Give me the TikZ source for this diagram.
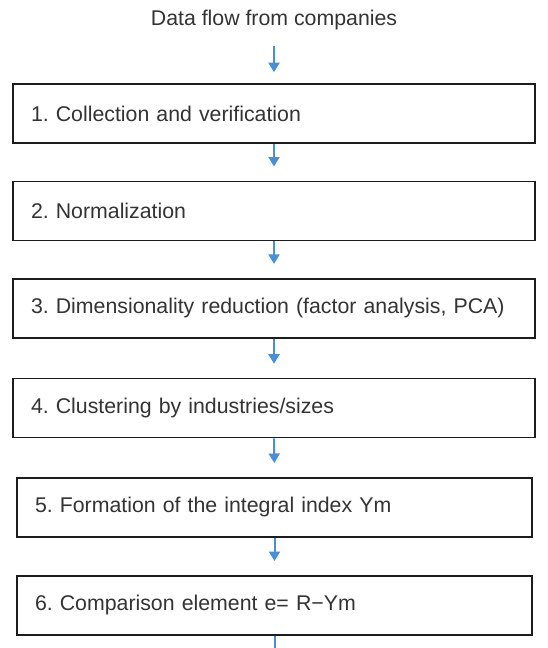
\documentclass[tikz,border=0pt]{standalone}
\usepackage{fontspec}
\setmainfont{Liberation Sans}
\usepackage{tikz}
\usetikzlibrary{arrows.meta}
\definecolor{flowblue}{HTML}{4A8FD6}
\definecolor{boxline}{HTML}{1C1C1C}
\definecolor{textgray}{HTML}{333333}
\tikzset{
  >={Triangle[length=9.5pt, width=11pt]},
  every node/.style={font=\fontsize{21.3}{25}\selectfont\frenchspacing, text=textgray},
  stagebox/.style={
    rectangle, draw=boxline, line width=1.6pt, fill=white,
    minimum height=59pt, inner xsep=18pt, inner ysep=0pt,
    text width=486pt, align=left
  },
  flowarrow/.style={->, flowblue, line width=2pt, shorten >=14pt}
}

\begin{document}
\begin{tikzpicture}[x=1pt, y=-1pt]
\useasboundingbox (0,0) rectangle (548,648);

% ── Heading ──────────────────────────────────────────────────────────────────
\node[inner sep=0pt] (head) at (274, 20) {Data flow from companies};

% ── Stages (one box per processing step) ─────────────────────────────────────
\node[stagebox] (b1) at (274, 113.5) {1. Collection and verification};
\node[stagebox] (b2) at (274, 210.8) {2. Normalization};
\node[stagebox] (b3) at (274, 308.2) {3. Dimensionality reduction (factor analysis, PCA)};
\node[stagebox] (b4) at (274, 408.0) {4. Clustering by industries/sizes};
\node[stagebox, text width=479pt] (b5) at (274.5, 507.3) {5. Formation of the integral index Ym};
\node[stagebox, text width=479pt] (b6) at (274.5, 605.3) {6. Comparison element e= R\textminus Ym};
\coordinate (tail) at (b6.south |- 0,648);

% ── Connectors ───────────────────────────────────────────────────────────────
\draw[flowarrow, shorten <=16pt, shorten >=11pt] (head.south) -- (b1.north);
\foreach \a/\b in {b1/b2, b2/b3, b3/b4, b4/b5, b5/b6} {
  \draw[flowarrow] (\a.south) -- (\b.north);
}
\draw[flowblue, line width=2pt] (b6.south) -- (tail);

\end{tikzpicture}
\end{document}
